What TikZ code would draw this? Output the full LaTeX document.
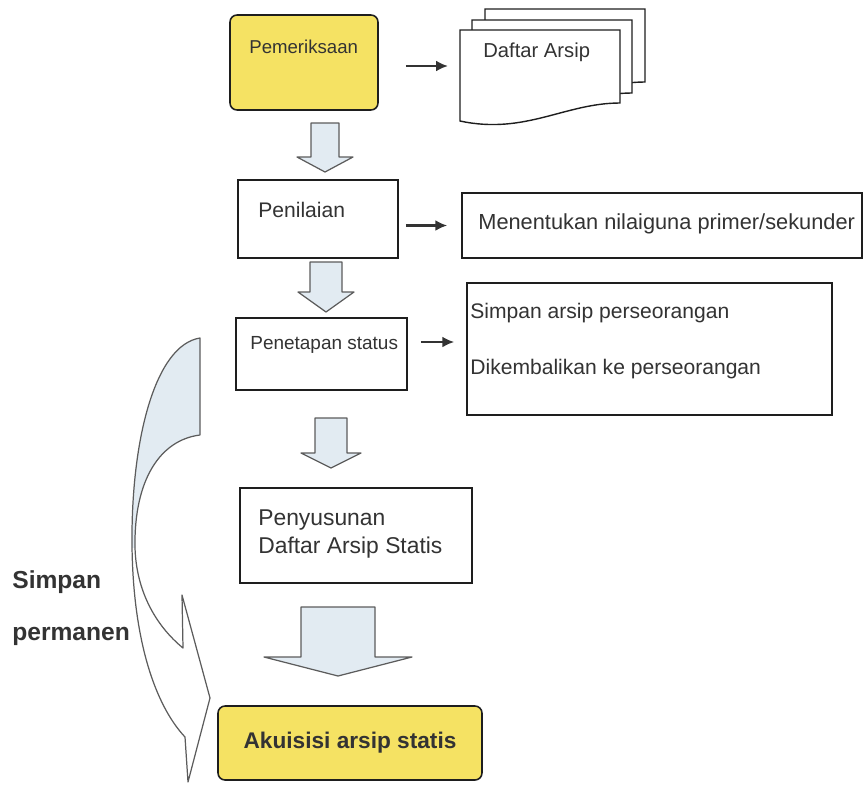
\documentclass[tikz,border=0pt]{standalone}
\usepackage{fontspec}
\setmainfont{Liberation Sans}
\usetikzlibrary{positioning, arrows.meta, calc}
\definecolor{ink}{HTML}{333333}
\definecolor{edge}{HTML}{1e1e1e}
\definecolor{hilite}{HTML}{F5E263}
\definecolor{pale}{HTML}{E2EBF2}

\begin{document}
\begin{tikzpicture}[x=0.02cm, y=-0.02cm,
  box/.style={draw=edge, line width=0.9pt, fill=white, inner sep=0pt},
  goal/.style={box, fill=hilite, rounded corners=4pt},
  lbl/.style={anchor=west, text=ink, inner sep=0pt},
  conn/.style={-{Latex[length=2.4mm,width=2.2mm]}, line width=1.3pt, draw=ink},
  bigarr/.style={draw=ink!80, line width=0.7pt, fill=pale, line join=round}
]
  \useasboundingbox (0,0) rectangle (865,785);

  % boxes
  \node[goal, minimum width=2.96cm, minimum height=1.9cm] (pem) at (304,62.5) {};
  \node[box, minimum width=3.2cm, minimum height=1.56cm] (pen) at (318,219) {};
  \node[box, minimum width=8cm, minimum height=1.3cm] (men) at (662,225.5) {};
  \node[box, minimum width=3.42cm, minimum height=1.44cm] (pet) at (321.5,354) {};
  \node[box, minimum width=7.3cm, minimum height=2.64cm] (sim) at (649.5,349) {};
  \node[box, minimum width=4.64cm, minimum height=1.9cm] (pny) at (356,535.5) {};
  \node[goal, minimum width=5.28cm, minimum height=1.48cm] (aku) at (350,743) {};

  % stacked pages
  \foreach \dx/\dy in {25/-21, 12/-10, 0/0} {
    \draw[edge, line width=0.8pt, fill=white]
      (460+\dx,30+\dy) -- (620+\dx,30+\dy) -- (620+\dx,103+\dy)
      .. controls (565+\dx,103+\dy) and (525+\dx,135+\dy) .. (460+\dx,121+\dy) -- cycle;
  }
  \coordinate (dafw) at (460,66);

  % block arrows
  \foreach \cx/\ya/\yb/\yc/\sw/\hw in {325/123/157/172/14/28, 326/262/292/312/16/28,
                                      331/418/453/468/16/30, 338/607/657/676/37/74} {
    \draw[bigarr] ({\cx-\sw},\ya) -- ({\cx+\sw},\ya) -- ({\cx+\sw},\yb) -- ({\cx+\hw},\yb)
      -- (\cx,\yc) -- ({\cx-\hw},\yb) -- ({\cx-\sw},\yb) -- cycle;
  }

  % curved arrow
  \begin{scope}
    \clip (0,0) rectangle (865,547);
    \fill[pale] (200,338) .. controls (155,345) and (131,440) .. (132,545)
      .. controls (133,640) and (155,705) .. (185,737) -- (188,782) -- (210,698)
      -- (182,595) -- (183,648) .. controls (155,625) and (136,590) .. (135,547)
      .. controls (134,480) and (160,440) .. (200,435) -- cycle;
  \end{scope}
  \draw[ink!80, line width=0.7pt, line join=round]
    (200,338) .. controls (155,345) and (131,440) .. (132,545)
      .. controls (133,640) and (155,705) .. (185,737) -- (188,782) -- (210,698)
      -- (182,595) -- (183,648) .. controls (155,625) and (136,590) .. (135,547)
      .. controls (134,480) and (160,440) .. (200,435) -- cycle;

  % texts
  \node[lbl, font=\fontsize{10.6}{12}\selectfont] (tpem) at (249,47) {Pemeriksaan};
  \node[lbl, font=\fontsize{11.5}{13}\selectfont] (tdaf) at (483,52) {Daftar Arsip};
  \node[lbl, font=\fontsize{12}{14}\selectfont] (tpen) at (258,210) {Penilaian};
  \node[lbl, font=\fontsize{12.4}{14}\selectfont] (tmen) at (478,224) {Menentukan nilaiguna primer/sekunder};
  \node[lbl, font=\fontsize{10.8}{12}\selectfont] (tpet) at (250,345) {Penetapan status};
  \node[lbl, font=\fontsize{12}{14}\selectfont] (tsim) at (470,313) {Simpan arsip perseorangan};
  \node[lbl, font=\fontsize{12}{14}\selectfont] (tkem) at (470,369) {Dikembalikan ke perseorangan};
  \node[lbl, font=\fontsize{13}{16.5}\selectfont, align=left] (tpny) at (258,534) {Penyusunan\\Daftar Arsip Statis};
  \node[font=\fontsize{12.9}{15}\selectfont\bfseries, text=ink, inner sep=0pt] (taku) at (aku) {Akuisisi arsip statis};
  \node[lbl, font=\fontsize{14}{16}\selectfont\bfseries] (tsp1) at (12,582) {Simpan};
  \node[lbl, font=\fontsize{14}{16}\selectfont\bfseries] (tsp2) at (12,636) {permanen};

  % connectors
  \draw[conn, shorten <=0.54cm, shorten >=0.24cm] (pem.east |- dafw) -- (dafw);
  \draw[conn, shorten <=0.14cm, shorten >=0.28cm] (pen.east |- men.west) -- (men.west);
  \draw[conn, shorten <=0.26cm, shorten >=0.24cm] ([yshift=0.24cm]pet.east) -- ([yshift=0.24cm]pet.east -| sim.west);
\end{tikzpicture}
\end{document}
